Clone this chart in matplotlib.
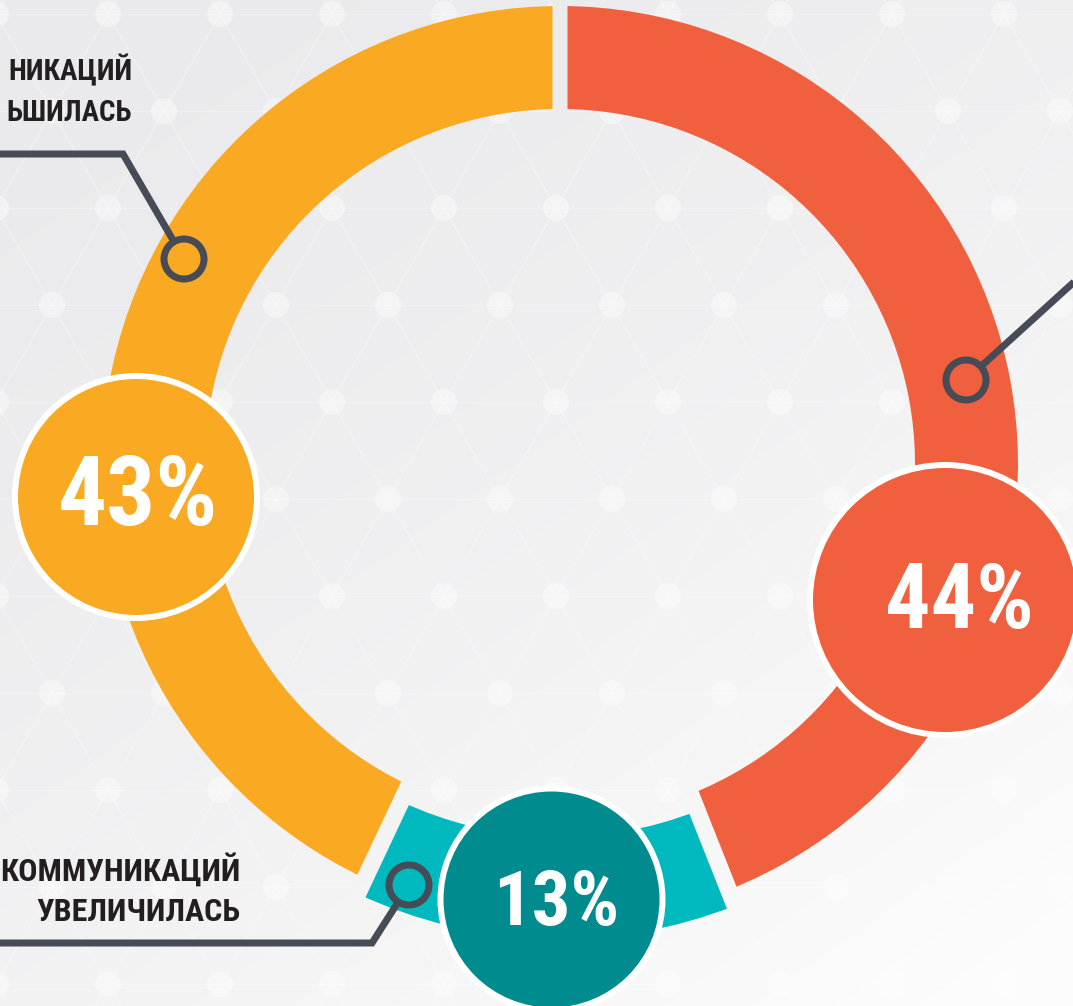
import numpy as np
import matplotlib
matplotlib.use('Agg')
import matplotlib.pyplot as plt
from matplotlib import font_manager
from matplotlib.patches import Circle, PathPatch
from matplotlib.path import Path
from matplotlib.collections import LineCollection

# ---------------- data ----------------
values = [44, 13, 43]                       # clockwise from top
ring_colors = ['#F0603E', '#00B9BF', '#F9AA22']
disc_colors = ['#F0603E', '#008C8F', '#F9AA22']
pct_labels = [f'{v}%' for v in values]
label_teal = ['КОММУНИКАЦИЙ', 'УВЕЛИЧИЛАСЬ']
label_orange = ['НИКАЦИЙ', 'ЬШИЛАСЬ']

W, H = 1073, 1006
LEADER = '#464B56'


def P(x, y):
    return (x, H - y)


def pick_font(names):
    for n in names:
        try:
            font_manager.findfont(font_manager.FontProperties(family=n, weight='bold'),
                                  fallback_to_default=False)
            return n
        except Exception:
            pass
    return 'DejaVu Sans'


FONT = pick_font(['Liberation Sans Narrow', 'Roboto Condensed', 'DejaVu Sans Condensed',
                  'Liberation Sans'])

fig = plt.figure(figsize=(W / 100, H / 100), dpi=100)
ax = fig.add_axes([0, 0, 1, 1])

# ---------------- background ----------------
yy, xx = np.mgrid[0:H, 0:W]
t = np.clip(0.45 * xx / W + 0.6 * yy / H, 0, 1) ** 1.6
c0 = np.array([0.918, 0.918, 0.926])
c1 = np.array([0.99, 0.99, 0.99])
img = c0 + (c1 - c0) * t[..., None]
ax.imshow(img, extent=(0, W, 0, H), origin='upper', zorder=0, interpolation='bilinear')

# hex lattice decoration
pts = []
segs = []
for k in range(-3, 11):
    y = 208 + 97 * k
    off = 56 if k % 2 else 0
    for j in range(-5, 9):
        x = 444 + 112 * j + off
        pts.append((x, y))
        segs.append([P(x, y), P(x + 112, y)])
        segs.append([P(x, y), P(x + 56, y + 97)])
        segs.append([P(x, y), P(x - 56, y + 97)])
ax.add_collection(LineCollection(segs, colors='white', linewidths=0.9, alpha=0.3, zorder=1))
for (x, y) in pts:
    ax.add_patch(Circle(P(x, y), 13, fc='white', ec='none', alpha=0.4, zorder=1))

# ---------------- ring ----------------
cx, cy = 560, 464
R, WID = 458, 103
wedges, _ = ax.pie(values, colors=ring_colors, startangle=90, counterclock=False,
                   radius=R, center=P(cx, cy),
                   wedgeprops=dict(width=WID, linewidth=0))
for w in wedges:
    w.set_zorder(2)
wedges[1].set_radius(475)
wedges[1].set_width(102)

# gaps between segments (background re-drawn in thin radial strips)
cum = np.cumsum([0] + values[:-1]) / sum(values) * 360.0
gap_w = [15, 17, 17]
verts, codes = [], []
C = np.array(P(cx, cy), dtype=float)
for th, g in zip(cum, gap_w):
    a = np.deg2rad(th)
    u = np.array([np.sin(a), np.cos(a)])
    n = np.array([np.cos(a), -np.sin(a)])
    r1, r2 = 330, 500
    quad = [C + u * r1 + n * g / 2, C + u * r2 + n * g / 2,
            C + u * r2 - n * g / 2, C + u * r1 - n * g / 2, C + u * r1 + n * g / 2]
    verts += [tuple(q) for q in quad]
    codes += [Path.MOVETO, Path.LINETO, Path.LINETO, Path.LINETO, Path.CLOSEPOLY]
gap_path = Path(verts, codes)
im2 = ax.imshow(img, extent=(0, W, 0, H), origin='upper', zorder=3, interpolation='bilinear')
im2.set_clip_path(PathPatch(gap_path, transform=ax.transData))

# ---------------- leaders ----------------
LW = 7 * 0.72
MR = 20


def leader(points, marker):
    pts_ = [np.array(p, dtype=float) for p in points]
    m = np.array(marker, dtype=float)
    d = m - pts_[-1]
    end = m - d / np.linalg.norm(d) * MR
    xy = [P(*p) for p in pts_] + [P(*end)]
    ax.plot([p[0] for p in xy], [p[1] for p in xy], color=LEADER, lw=LW,
            solid_capstyle='butt', solid_joinstyle='miter', zorder=4)
    ax.add_patch(Circle(P(*m), MR, fill=False, ec=LEADER, lw=LW, zorder=5))


leader([(-10, 154), (123, 154)], (184, 259))
leader([(1085, 272)], (966, 380))
leader([(-10, 943), (372, 943)], (409, 885))

# ---------------- label discs ----------------
discs = [((945, 600), 135), ((551.5, 899.5), 111), ((136, 497), 121)]
for (c, r), col in zip(discs, disc_colors):
    ax.add_patch(Circle(P(*c), r, fc=col, ec='white', lw=6 * 0.72, zorder=6))

txt_pos = [((959, 628), 65), ((556, 925), 55), ((137.5, 525), 70)]
for (p, fs), lab in zip(txt_pos, pct_labels):
    ax.text(*P(*p), lab, ha='center', va='baseline', fontsize=fs, fontweight='bold',
            color='white', family=FONT, zorder=7)

# ---------------- category texts ----------------
TXT = '#231F20'
for s, yb in zip(label_orange, [80, 121]):
    ax.text(*P(132, yb), s, ha='right', va='baseline', fontsize=21, fontweight='bold',
            color=TXT, family=FONT, zorder=7)
for s, yb in zip(label_teal, [881, 921]):
    ax.text(*P(240, yb), s, ha='right', va='baseline', fontsize=23, fontweight='bold',
            color=TXT, family=FONT, zorder=7)

ax.set_xlim(0, W)
ax.set_ylim(0, H)
ax.set_aspect('auto')
ax.axis('off')
fig.savefig('out.png', dpi=100)
